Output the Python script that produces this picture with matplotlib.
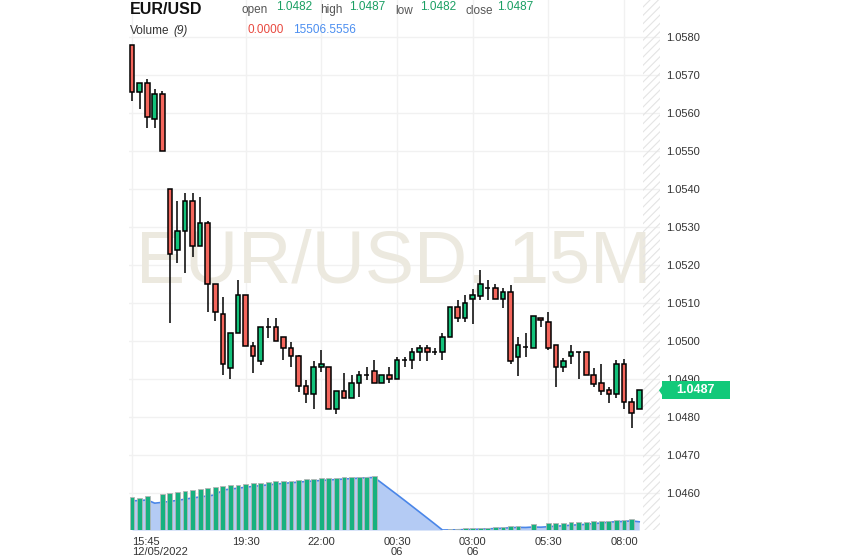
import numpy as np
import pandas as pd
import matplotlib
matplotlib.use('Agg')
import matplotlib.pyplot as plt
from matplotlib.patches import Rectangle, Polygon
from matplotlib.transforms import blended_transform_factory

plt.rcParams['font.family'] = ['Liberation Sans', 'DejaVu Sans']
plt.rcParams['hatch.linewidth'] = 0.8

# EUR/USD 15 minute candles, 12/05 15:45 -> 13/05 08:30
opens = [1.0578, 1.05656, 1.05678, 1.05583, 1.05649, 1.05399, 1.05239, 1.05289, 1.05368, 1.05249,
         1.0531, 1.05149, 1.0507, 1.0493, 1.0502, 1.0512, 1.04988, 1.04948, 1.05038, 1.05038,
         1.0501, 1.04981, 1.0496, 1.04882, 1.0486, 1.04931, 1.04931, 1.0482, 1.04869, 1.04849,
         1.04889, 1.0491, 1.04921, 1.04889, 1.0491, 1.04899, 1.0495, 1.0495, 1.0497, 1.04981,
         1.0497, 1.0497, 1.0501, 1.05089, 1.0506, 1.0511, 1.05119, 1.05139, 1.05139, 1.0511,
         1.05128, 1.04959, 1.04983, 1.04981, 1.0506, 1.05049, 1.04989, 1.04931, 1.0496, 1.0497,
         1.0497, 1.0491, 1.04889, 1.0487, 1.0486, 1.04939, 1.04839, 1.0482]
highs = [1.0578, 1.05678, 1.05689, 1.05662, 1.05658, 1.05399, 1.05368, 1.05389, 1.05389, 1.05378,
         1.05315, 1.05149, 1.05115, 1.0502, 1.05161, 1.0512, 1.04998, 1.05038, 1.0506, 1.0506,
         1.0501, 1.04998, 1.04964, 1.04897, 1.04947, 1.04976, 1.04931, 1.04869, 1.04915, 1.0491,
         1.04921, 1.04931, 1.0495, 1.0491, 1.04931, 1.04959, 1.04959, 1.04981, 1.04989, 1.04989,
         1.04981, 1.0502, 1.05089, 1.05108, 1.05121, 1.05137, 1.05187, 1.05161, 1.05149, 1.05139,
         1.05147, 1.05011, 1.0502, 1.05065, 1.0506, 1.05077, 1.04989, 1.04954, 1.04989, 1.0497,
         1.0497, 1.04928, 1.04939, 1.0488, 1.0495, 1.04953, 1.04849, 1.0487]
lows = [1.05632, 1.0561, 1.0556, 1.0556, 1.0550, 1.05048, 1.05204, 1.05178, 1.0522, 1.05249,
        1.05077, 1.05053, 1.0491, 1.0490, 1.0502, 1.04988, 1.04915, 1.04937, 1.05009, 1.0500,
        1.04949, 1.04931, 1.04865, 1.04836, 1.04821, 1.04919, 1.0482, 1.04807, 1.04849, 1.04849,
        1.04853, 1.04897, 1.04889, 1.04889, 1.04889, 1.04899, 1.04931, 1.04926, 1.04948, 1.04948,
        1.04963, 1.0495, 1.0501, 1.05049, 1.05049, 1.05044, 1.05109, 1.05109, 1.0511, 1.05088,
        1.04939, 1.04909, 1.04959, 1.04981, 1.05038, 1.04976, 1.0488, 1.04919, 1.04939, 1.04899,
        1.0491, 1.0488, 1.04858, 1.04836, 1.04849, 1.0482, 1.0477, 1.0482]
closes = [1.05656, 1.05678, 1.05589, 1.05649, 1.0550, 1.05228, 1.05289, 1.05368, 1.05249, 1.0531,
          1.05149, 1.05077, 1.04939, 1.0502, 1.0512, 1.04988, 1.0496, 1.05038, 1.05038, 1.0500,
          1.04981, 1.0496, 1.04882, 1.0486, 1.04931, 1.04939, 1.0482, 1.04869, 1.04849, 1.04889,
          1.0491, 1.0491, 1.04889, 1.0491, 1.04899, 1.0495, 1.0495, 1.0497, 1.04981, 1.0497,
          1.0497, 1.0501, 1.05089, 1.0506, 1.05099, 1.05121, 1.05149, 1.05139, 1.0511, 1.05128,
          1.04948, 1.04989, 1.04983, 1.05065, 1.05054, 1.04981, 1.04931, 1.04948, 1.0497, 1.0497,
          1.0491, 1.04886, 1.04869, 1.0486, 1.04939, 1.04839, 1.0481, 1.0487]

volumes = [61100, 60450, 63050, 0, 67600, 69550, 71500, 73450, 75400, 77350,
           78650, 79950, 81900, 83850, 85150, 86450, 88400, 88400, 90350, 91650,
           91650, 92950, 94250, 95550, 95550, 96850, 96850, 98150, 99450, 99450,
           100100, 100100, 102050, 0, 0, 0, 0, 0, 0, 0,
           0, 0, 1300, 1950, 3250, 3250, 4550, 4550, 5850, 5850,
           7150, 8450, 0, 11050, 0, 13000, 13000, 13000, 14950, 14950,
           14950, 16250, 16250, 17550, 18200, 19500, 21450, 0]
# bars just before the visible window (needed for the 9 period average)
volumes_before = [53800, 53800, 53800, 53800, 53800, 53800, 53800, 53800]

tick_pos = [0, 15, 25, 35, 45, 55, 65]
tick_labels = ['15:45\n12/05/2022', '19:30', '22:00', '00:30\n06', '03:00\n06', '05:30', '08:00']
price_ticks = [1.046, 1.047, 1.048, 1.049, 1.050, 1.051, 1.052, 1.053, 1.054, 1.055, 1.056, 1.057, 1.058]

green = '#13c27b'
red = '#f4665c'

o = np.array(opens); h = np.array(highs); l = np.array(lows); c = np.array(closes)
x = np.arange(len(o))
vol_ma = pd.Series(volumes_before + volumes).rolling(9).mean().values[len(volumes_before):]

W, H = 844, 558
fig = plt.figure(figsize=(W / 100, H / 100), dpi=100)
ax = fig.add_axes([129 / W, 28 / H, 531 / W, 530 / H])
ax.set_xlim(-0.4, 69.75)
ax.set_ylim(1.045026, 1.058974)

for s in ax.spines.values():
    s.set_visible(False)
ax.set_yticks(price_ticks)
ax.set_yticklabels(['%.4f' % p for p in price_ticks])
ax.yaxis.tick_right()
ax.tick_params(axis='y', length=0, pad=4.5, labelsize=8, labelcolor='#333333')
ax.set_xticks(tick_pos)
ax.set_xticklabels(tick_labels)
ax.tick_params(axis='x', length=0, pad=5, labelsize=8, labelcolor='#333333')
for t in ax.get_xticklabels():
    t.set_linespacing(1.0)
ax.get_xticklabels()[0].set_ha('left')
ax.get_xticklabels()[0].set_multialignment('left')
ax.grid(True, color='#f1f1f1', linewidth=1)
ax.set_axisbelow(True)

# watermark
ax.text(0.499, 0.504, 'EUR/USD, 15M', transform=ax.transAxes, ha='center', va='center',
        fontsize=53, color='#ece9df', zorder=0.6)

# hatched future area
ax.axvspan(67.5, 69.75, facecolor='none', edgecolor='#e4e4e4', hatch='////', linewidth=0, zorder=0.7)

# candles
up = c >= o
cols = np.where(up, green, red)
ax.vlines(x, l, h, color='black', linewidth=1.1, zorder=3)
ax.bar(x, np.abs(c - o), bottom=np.minimum(o, c), width=0.62, color=cols,
       edgecolor='black', linewidth=1.1, zorder=4)

# volume overlay
axv = fig.add_axes(ax.get_position(), sharex=ax)
axv.patch.set_alpha(0)
axv.axis('off')
axv.set_ylim(0, max(volumes) / 0.1025)
axv.fill_between(x, 0, vol_ma, color='#b4cbf4', linewidth=0, zorder=1)
axv.plot(x, vol_ma, color='#4a86e8', linewidth=1.2, zorder=2)
axv.bar(x, volumes, width=0.64, color='#17b17f', edgecolor='#b5b5b5', linewidth=0.6, zorder=3)
axv.set_xlim(-0.4, 69.75)

# last price tag
blend = blended_transform_factory(ax.transAxes, ax.transData)
last = closes[-1]
ax.add_patch(Rectangle((1.003, last - 0.000237), 0.128, 0.000474, transform=blend,
                       facecolor='#12c97a', edgecolor='none', clip_on=False, zorder=5))
ax.add_patch(Polygon([(1.004, last + 0.00012), (1.004, last - 0.00012), (0.998, last)],
                     closed=True, transform=blend, facecolor='#12c97a', edgecolor='none',
                     clip_on=False, zorder=5))
ax.text(1.067, last, '%.4f' % last, transform=blend, ha='center', va='center',
        color='white', fontsize=9, fontweight='bold', zorder=6)

# header
def fx(px):
    return px / W

def fy(py):
    return 1 - py / H

fig.text(fx(130), fy(14), 'EUR/USD', fontsize=11.5, fontweight='bold', color='#111111', va='baseline')
hdr = [('open', 241.7, '1.0482', 275.7), ('high', 320, '1.0487', 349.3),
       ('low', 395, '1.0482', 420), ('close', 465, '1.0487', 497.3)]
for lab, lx, val, vx in hdr:
    fig.text(fx(lx), fy(13.5), lab, fontsize=8.5, color='#555555', va='baseline')
    fig.text(fx(vx), fy(10.5), val, fontsize=8.5, color='#1a9f63', va='baseline')
fig.text(fx(130), fy(34), 'Volume', fontsize=8.5, color='#333333', va='baseline')
fig.text(fx(173), fy(34), '(9)', fontsize=8.5, color='#333333', va='baseline', style='italic')
fig.text(fx(247.7), fy(33), '0.0000', fontsize=8.5, color='#e8493f', va='baseline')
fig.text(fx(293.3), fy(33), '15506.5556', fontsize=8.5, color='#4b8ef0', va='baseline')

fig.savefig('out.png', dpi=100)
